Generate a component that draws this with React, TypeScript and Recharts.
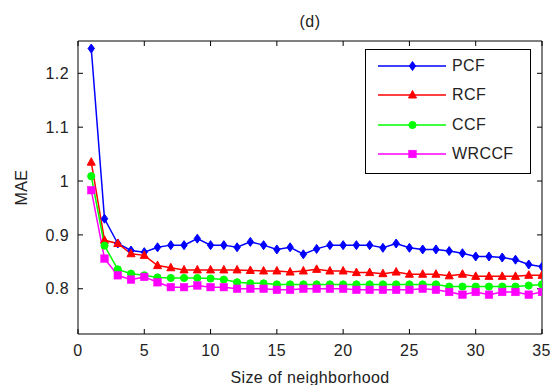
import React from "react"
import { LineChart, Line, XAxis, YAxis, Legend } from "recharts"

const sizes = [
  1, 2, 3, 4, 5, 6, 7, 8, 9, 10, 11, 12, 13, 14, 15, 16, 17, 18,
  19, 20, 21, 22, 23, 24, 25, 26, 27, 28, 29, 30, 31, 32, 33, 34, 35
]

const pcf = [
  1.246, 0.93, 0.884, 0.871, 0.868, 0.877, 0.881, 0.881, 0.893, 0.881, 0.881, 0.877,
  0.887, 0.881, 0.873, 0.877, 0.864, 0.874, 0.881, 0.881, 0.881, 0.881, 0.876, 0.884,
  0.876, 0.873, 0.873, 0.87, 0.866, 0.86, 0.86, 0.858, 0.854, 0.845, 0.841
]

const rcf = [
  1.035, 0.89, 0.884, 0.865, 0.862, 0.843, 0.839, 0.835, 0.835, 0.835, 0.835, 0.835,
  0.834, 0.833, 0.833, 0.831, 0.833, 0.836, 0.833, 0.833, 0.83, 0.83, 0.828, 0.831,
  0.827, 0.827, 0.827, 0.824, 0.827, 0.823, 0.823, 0.823, 0.823, 0.825, 0.825
]

const ccf = [
  1.009, 0.88, 0.836, 0.828, 0.825, 0.821, 0.82, 0.82, 0.82, 0.819, 0.817, 0.812,
  0.81, 0.81, 0.808, 0.808, 0.808, 0.808, 0.808, 0.808, 0.808, 0.808, 0.808, 0.808,
  0.808, 0.808, 0.808, 0.804, 0.804, 0.804, 0.804, 0.804, 0.804, 0.806, 0.808
]

const wrccf = [
  0.983, 0.856, 0.825, 0.817, 0.822, 0.812, 0.803, 0.803, 0.806, 0.803, 0.803, 0.8,
  0.8, 0.8, 0.798, 0.798, 0.8, 0.8, 0.8, 0.8, 0.798, 0.798, 0.798, 0.798,
  0.798, 0.8, 0.798, 0.794, 0.789, 0.794, 0.789, 0.794, 0.794, 0.789, 0.794
]

const xTicks = [0, 5, 10, 15, 20, 25, 30, 35]
const yTicks = [0.8, 0.9, 1, 1.1, 1.2]

const data = sizes.map((n, i) => ({
  n,
  PCF: pcf[i],
  RCF: rcf[i],
  CCF: ccf[i],
  WRCCF: wrccf[i]
}))

type Shape = "diamond" | "triangle" | "circle" | "square"

const series: { key: string; color: string; shape: Shape }[] = [
  { key: "PCF", color: "#0000ff", shape: "diamond" },
  { key: "RCF", color: "#ff0000", shape: "triangle" },
  { key: "CCF", color: "#00ff00", shape: "circle" },
  { key: "WRCCF", color: "#ff00ff", shape: "square" }
]

const font = "Arial, 'Liberation Sans', sans-serif"
const textStyle = { fontFamily: font, fontSize: 16, fill: "#222", letterSpacing: 0.4 }

function Marker({ cx, cy, shape, color }: { cx: number; cy: number; shape: Shape; color: string }) {
  if (shape === "diamond") {
    return (
      <path
        d={`M${cx},${cy - 4.5} L${cx + 3.2},${cy} L${cx},${cy + 4.5} L${cx - 3.2},${cy} Z`}
        fill={color}
        stroke={color}
        strokeWidth={1}
      />
    )
  }
  if (shape === "triangle") {
    return (
      <path
        d={`M${cx},${cy - 4.5} L${cx + 4},${cy + 3} L${cx - 4},${cy + 3} Z`}
        fill={color}
        stroke={color}
        strokeWidth={1}
      />
    )
  }
  if (shape === "circle") {
    return <circle cx={cx} cy={cy} r={3.6} fill={color} stroke={color} strokeWidth={1} />
  }
  return <rect x={cx - 3.8} y={cy - 3.8} width={7.6} height={7.6} fill={color} stroke={color} strokeWidth={0.5} />
}

function makeDot(shape: Shape, color: string) {
  return (props: any) => {
    const { cx, cy, index } = props
    if (cx == null || cy == null) return <g key={`d-${index}`} />
    return (
      <g key={`d-${shape}-${index}`}>
        <Marker cx={cx} cy={cy} shape={shape} color={color} />
      </g>
    )
  }
}

function LegendBox() {
  return (
    <div
      style={{
        width: 164,
        height: 122,
        border: "1px solid #000",
        background: "#fff",
        paddingTop: 1,
        boxSizing: "content-box",
        fontFamily: font,
        fontSize: 16,
        letterSpacing: 0.4,
        color: "#222"
      }}
    >
      {series.map((s) => (
        <div key={s.key} style={{ display: "flex", alignItems: "center", height: 29.5 }}>
          <svg width={86} height={14} style={{ display: "block" }}>
            <line x1={12} x2={80} y1={7} y2={7} stroke={s.color} strokeWidth={1.5} />
            <Marker cx={46.5} cy={7} shape={s.shape} color={s.color} />
          </svg>
          <span style={{ marginLeft: 0 }}>{s.key}</span>
        </div>
      ))}
    </div>
  )
}

function YTitle(props: any) {
  const vb = props.viewBox || {}
  const x = vb.x + 27
  const y = vb.y + vb.height / 2
  return (
    <text
      x={x}
      y={y}
      transform={`rotate(-90 ${x} ${y})`}
      textAnchor="middle"
      style={textStyle}
    >
      MAE
    </text>
  )
}

export default function App() {
  return (
    <div style={{ position: "absolute", left: 0, top: 0, width: 550, height: 385, background: "#fff" }}>
      <LineChart
        width={550}
        height={385}
        data={data}
        margin={{ top: 40, right: 7, bottom: 0, left: 0 }}
      >
        <XAxis
          dataKey="n"
          type="number"
          domain={[0, 35]}
          ticks={xTicks}
          allowDataOverflow
          height={51}
          stroke="#000"
          tickSize={-5}
          tickMargin={16}
          tick={textStyle}
          label={{
            value: "Size of neighborhood",
            position: "insideBottom",
            offset: 2,
            style: textStyle
          }}
        />
        <XAxis
          xAxisId="top"
          orientation="top"
          dataKey="n"
          type="number"
          domain={[0, 35]}
          ticks={xTicks}
          allowDataOverflow
          height={1}
          stroke="#000"
          tickSize={-5}
          tickFormatter={() => ""}
          label={{
            value: "(d)",
            position: "top",
            offset: 13,
            style: textStyle
          }}
        />
        <YAxis
          type="number"
          domain={[0.716, 1.26]}
          ticks={yTicks}
          allowDataOverflow
          width={78}
          stroke="#000"
          tickSize={-5}
          tickMargin={14}
          tick={textStyle}
          tickFormatter={(v: number) => String(v)}
          label={<YTitle />}
        />
        <YAxis
          yAxisId="right"
          orientation="right"
          type="number"
          domain={[0.716, 1.26]}
          ticks={yTicks}
          allowDataOverflow
          width={1}
          stroke="#000"
          tickSize={-5}
          tickFormatter={() => ""}
        />
        <Legend
          layout="vertical"
          verticalAlign="middle"
          align="center"
          content={() => <LegendBox />}
          wrapperStyle={{ left: 365, top: 49, width: 166 }}
        />
        {series.map((s) => (
          <Line
            key={s.key}
            dataKey={s.key}
            stroke={s.color}
            strokeWidth={1.5}
            type="linear"
            dot={makeDot(s.shape, s.color)}
            activeDot={false}
            isAnimationActive={false}
          />
        ))}
      </LineChart>
    </div>
  )
}
